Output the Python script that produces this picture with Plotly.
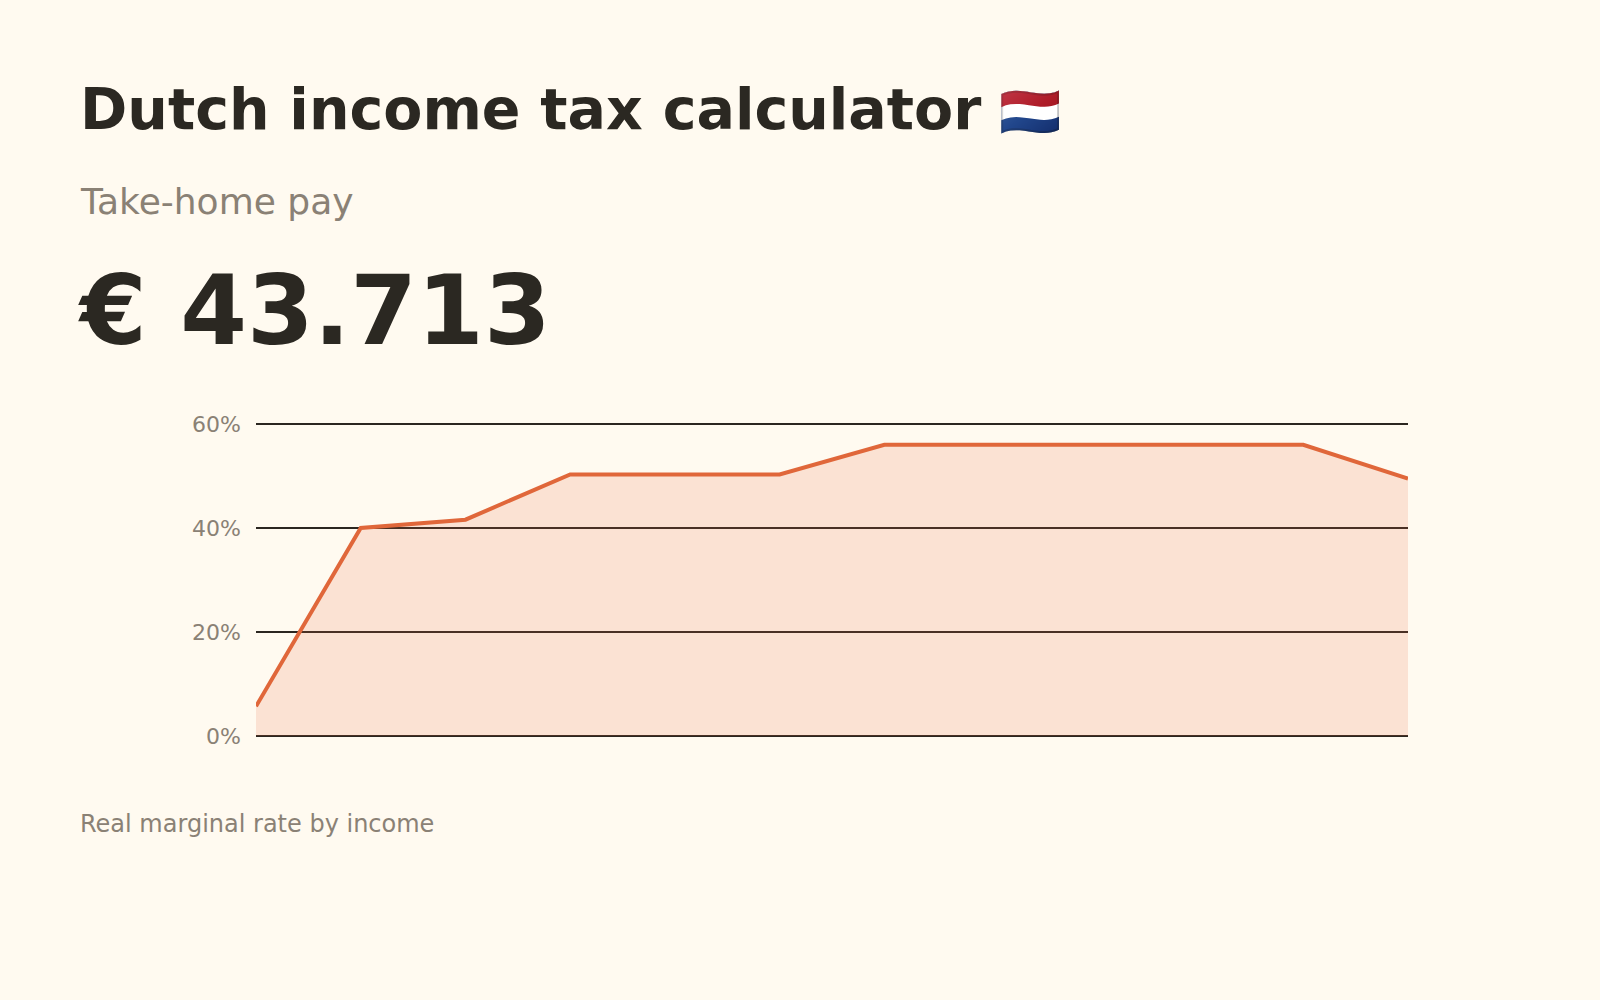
import plotly.graph_objects as go

# Data
income = [0, 10000, 20000, 30000, 40000, 50000, 60000, 70000, 80000, 90000, 100000, 110000]
marginal_rate = [5.7, 40.0, 41.6, 50.3, 50.3, 50.3, 56.0, 56.0, 56.0, 56.0, 56.0, 49.5]
y_ticks = [0, 20, 40, 60]
y_tick_labels = ["0%", "20%", "40%", "60%"]

title_text = "Dutch income tax calculator"
flag_text = "🇳🇱"
subtitle_text = "Take-home pay"
amount_text = "€ 43.713"
footnote_text = "Real marginal rate by income"

BG = "#fffaf0"
DARK = "#2b2822"
GRAY = "#8a8175"
GRID = "#2b2620"
ORANGE = "#e0673a"
FONT = "DejaVu Sans"

W, H = 1600, 1000
L, R, T, B = 256, 192, 418, 264
plot_w = W - L - R
plot_h = H - T - B
TOP_PAD = 6  # px of empty space above the top gridline


def px_to_paper_x(px):
    return (px - L) / plot_w


def px_to_paper_y(py):
    return (H - B - py) / plot_h


fig = go.Figure()
fig.add_trace(go.Scatter(
    x=income, y=marginal_rate, mode="lines",
    line=dict(color=ORANGE, width=4),
    fill="tozeroy", fillcolor="rgba(230,108,60,0.16)",
    hoverinfo="skip", showlegend=False,
))

annotations = [
    dict(text=f"<b>{title_text}</b> <span style='font-size:50px'>{flag_text}</span>",
         x=px_to_paper_x(78), y=px_to_paper_y(109),
         font=dict(size=57, color=DARK, family=FONT)),
    dict(text=subtitle_text, x=px_to_paper_x(78), y=px_to_paper_y(201),
         font=dict(size=36, color=GRAY, family=FONT)),
    dict(text=f"<b>{amount_text}</b>", x=px_to_paper_x(76), y=px_to_paper_y(311),
         font=dict(size=96, color=DARK, family=FONT)),
    dict(text=footnote_text, x=px_to_paper_x(78), y=px_to_paper_y(824),
         font=dict(size=24, color=GRAY, family=FONT)),
]
for a in annotations:
    a.update(xref="paper", yref="paper", xanchor="left", yanchor="middle",
             showarrow=False)

y_top = y_ticks[-1] * plot_h / (plot_h - TOP_PAD)

fig.update_layout(
    width=W, height=H,
    paper_bgcolor=BG, plot_bgcolor=BG,
    margin=dict(l=L, r=R, t=T, b=B, pad=0),
    annotations=annotations,
    font=dict(family=FONT),
    xaxis=dict(range=[income[0], income[-1]], visible=False, showgrid=False, zeroline=False),
    yaxis=dict(range=[0, y_top], tickvals=y_ticks, ticktext=y_tick_labels,
               showgrid=True, gridcolor=GRID, gridwidth=1.6,
               zeroline=True, zerolinecolor=GRID, zerolinewidth=1.6,
               showline=False, ticks="", ticklabelstandoff=14,
               tickfont=dict(size=22, color=GRAY, family=FONT)),
)

fig.write_html(
    "out.html",
    config={"displayModeBar": False},
    post_script="document.body.style.margin='0';document.body.style.background='#fffaf0';",
)
